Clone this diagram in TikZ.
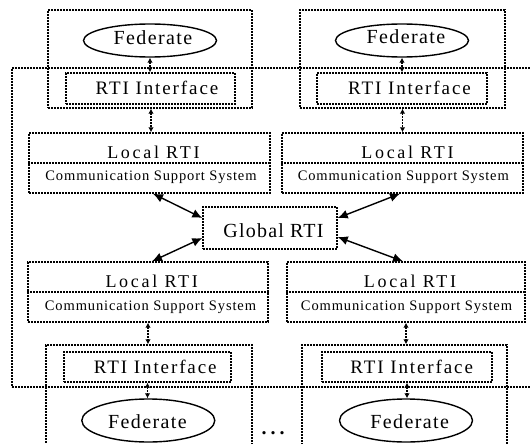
\documentclass[tikz,border=0pt]{standalone}
\usepackage{fontspec}
\setmainfont{Liberation Serif}
\usetikzlibrary{arrows.meta,shapes.geometric}

% text with a given size (pt) and tracking
\newcommand\spaced[3]{{\fontsize{#1}{#1}\selectfont\addfontfeature{LetterSpace=#2}#3}}

\tikzset{
  dotbox/.style={draw, line width=1.4pt, dash pattern=on 2pt off 1pt, inner sep=0pt},
  fedshape/.style={ellipse, draw, line width=1.4pt, minimum width=133pt, inner sep=0pt},
  txt/.style={inner sep=0pt, anchor=base},
  linkv/.style={line width=1.2pt, dash pattern=on 2pt off 1pt,
    {Latex[length=5pt,width=5.5pt]}-{Latex[length=5pt,width=5.5pt]}},
  linkd/.style={line width=1.4pt,
    {Latex[length=10pt,width=9pt]}-{Latex[length=10pt,width=9pt]}},
}

\begin{document}
\begin{tikzpicture}[x=1pt, y=-1pt]
\clip (0,0) rectangle (530,444);

% shared frame around the RTI layer
\node[dotbox, minimum width=533pt, minimum height=319pt] (frame) at (278.5,227.5) {};

% upper federates
\node[dotbox, minimum width=204pt, minimum height=98pt] (tlc) at (150,59) {};
\node[fedshape, minimum height=33pt] (tlf) at (150,40.5) {};
\node[txt] (tlft) at (153,44.3) {\spaced{20}{7}{Federate}};
\node[dotbox, minimum width=169pt, minimum height=31pt] (tli) at (150.5,88.5) {};
\node[txt] (tlit) at (157,94.3) {\spaced{19}{10}{RTI Interface}};

\node[dotbox, minimum width=205pt, minimum height=98pt] (trc) at (402.5,59) {};
\node[fedshape, minimum height=33pt] (trf) at (402,40.5) {};
\node[txt] (trft) at (406,43.8) {\spaced{20}{7}{Federate}};
\node[dotbox, minimum width=170pt, minimum height=31pt] (tri) at (402,88.5) {};
\node[txt] (trit) at (409.5,94.3) {\spaced{19}{10}{RTI Interface}};

% local RTIs
\node[dotbox, minimum width=241pt, minimum height=60pt] (tll) at (149.5,163) {};
\draw[dotbox] (tll.west) -- (tll.east);
\node[txt] (tllt) at (153.4,158.3) {\spaced{18}{15}{Local RTI}};
\node[txt] (tllc) at (151,180) {\spaced{14.5}{6}{Communication Support System}};

\node[dotbox, minimum width=241pt, minimum height=60pt] (trl) at (402.5,163) {};
\draw[dotbox] (trl.west) -- (trl.east);
\node[txt] (trlt) at (407.5,158.3) {\spaced{18}{15}{Local RTI}};
\node[txt] (trlc) at (403.3,180) {\spaced{14.5}{6}{Communication Support System}};

\node[dotbox, minimum width=240pt, minimum height=60pt] (bll) at (148,292) {};
\draw[dotbox] (bll.west) -- (bll.east);
\node[txt] (bllt) at (151.7,287.7) {\spaced{18}{15}{Local RTI}};
\node[txt] (bllc) at (150.5,310) {\spaced{14.5}{6}{Communication Support System}};

\node[dotbox, minimum width=238pt, minimum height=60pt] (brl) at (406,292) {};
\draw[dotbox] (brl.west) -- (brl.east);
\node[txt] (brlt) at (410,287.7) {\spaced{18}{15}{Local RTI}};
\node[txt] (brlc) at (406.5,310) {\spaced{14.5}{6}{Communication Support System}};

% global RTI
\node[dotbox, minimum width=134pt, minimum height=42pt] (glob) at (270,228) {};
\node[txt] (globt) at (273.5,237) {\spaced{20}{6}{Global RTI}};

% lower federates
\node[dotbox, minimum width=206pt, minimum height=125pt] (blc) at (149,407.5) {};
\node[dotbox, minimum width=167pt, minimum height=30pt] (bli) at (147.5,367) {};
\node[txt] (blit) at (155.3,373.3) {\spaced{19}{10}{RTI Interface}};
\node[fedshape, minimum height=43pt] (blf) at (148.3,420.5) {};
\node[txt] (blft) at (147.4,428.3) {\spaced{20}{7}{Federate}};

\node[dotbox, minimum width=205pt, minimum height=125pt] (brc) at (404.5,407.5) {};
\node[dotbox, minimum width=170pt, minimum height=30pt] (bri) at (407,367) {};
\node[txt] (brit) at (411.7,373.3) {\spaced{19}{10}{RTI Interface}};
\node[fedshape, minimum height=43pt] (brf) at (406,420.5) {};
\node[txt] (brft) at (409.7,428.3) {\spaced{20}{7}{Federate}};

\node[txt] (more) at (275,434.5) {\spaced{20}{20}{\textbf{...}}};

% vertical links
\draw[linkv] (tlf.south) -- (tlf.south |- tli.north);
\draw[linkv] ([xshift=1pt]tlc.south) -- ([xshift=1pt]tlc.south |- tll.north);
\draw[linkv] (trf.south) -- (trf.south |- tri.north);
\draw[linkv] (trc.south) -- (trc.south |- trl.north);
\draw[linkv] (bll.south) -- (bll.south |- blc.north);
\draw[linkv] (bli.south) -- (bli.south |- blf.north);
\draw[linkv] (brl.south) -- (brl.south |- brc.north);
\draw[linkv] (bri.south) -- (bri.south |- brf.north);

% links to the global RTI
\draw[linkd] ([xshift=3.5pt]tll.south) -- ([yshift=10pt]glob.west);
\draw[linkd] ([yshift=-10pt]glob.west) -- ([xshift=4pt]bll.north);
\draw[linkd] ([xshift=-2.5pt]trl.south) -- ([yshift=10pt]glob.east);
\draw[linkd] ([yshift=-9pt]glob.east) -- ([xshift=-3pt]brl.north);
\end{tikzpicture}
\end{document}
